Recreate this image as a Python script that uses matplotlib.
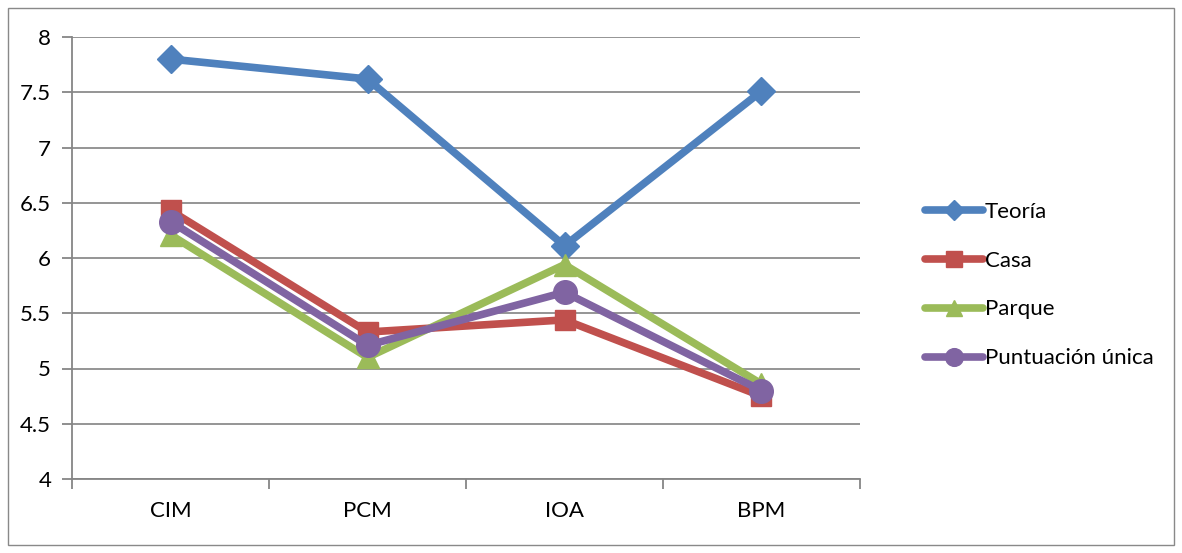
import numpy as np
import matplotlib.pyplot as plt
from matplotlib.patches import Rectangle

plt.rcParams['font.family'] = ['Lato', 'DejaVu Sans']

categorias = ['CIM', 'PCM', 'IOA', 'BPM']
teoria = [7.80, 7.62, 6.11, 7.51]
casa = [6.43, 5.33, 5.44, 4.75]
parque = [6.21, 5.10, 5.94, 4.86]
puntuacion = [6.33, 5.21, 5.69, 4.80]

series = [
    ('Teoría', teoria, '#4F81BD', 'D', 14),
    ('Casa', casa, '#C0504D', 's', 15),
    ('Parque', parque, '#9BBB59', '^', 16),
    ('Puntuación única', puntuacion, '#8064A2', 'o', 17),
]

fig = plt.figure(figsize=(11.82, 5.53), dpi=100)
ax = fig.add_axes([72 / 1182, 1 - 479 / 553, (860 - 72) / 1182, (479 - 37) / 553])

# borde del grafico
fig.patches.append(Rectangle((8 / 1182, 8 / 553), 1166 / 1182, 537 / 553,
                             transform=fig.transFigure, fill=False,
                             edgecolor='#898989', linewidth=1))

x = np.arange(len(categorias))
for nombre, valores, color, marcador, tam in series:
    ax.plot(x, valores, color=color, linewidth=5.5, marker=marcador,
            markersize=tam, label=nombre, solid_capstyle='round')

ax.set_xlim(-0.5, len(categorias) - 0.5)
ax.set_ylim(4, 8)
ax.set_yticks(np.arange(4, 8.01, 0.5))
ax.set_yticklabels(['4', '4.5', '5', '5.5', '6', '6.5', '7', '7.5', '8'])
ax.set_xticks(x)
ax.set_xticklabels(categorias)
ax.set_xticks(np.arange(-0.5, len(categorias), 1), minor=True)
ax.tick_params(axis='x', which='major', length=0, pad=16, labelsize=16)
ax.tick_params(axis='x', which='minor', length=7, color='#868686', width=1.3)
ax.tick_params(axis='y', length=7, color='#868686', width=1.3, labelsize=16, pad=8)

ax.grid(axis='y', color='#8c8c8c', linewidth=1.3)
ax.set_axisbelow(True)
for lado in ['top', 'right']:
    ax.spines[lado].set_visible(False)
for lado in ['left', 'bottom']:
    ax.spines[lado].set_color('#868686')
    ax.spines[lado].set_linewidth(1.3)

fig.legend(loc='center left', bbox_to_anchor=(905 / 1182, 1 - 285 / 553),
           frameon=False, fontsize=16, handlelength=2.6, handletextpad=0.1,
           labelspacing=1.3, markerscale=0.75)

fig.savefig('out.png', dpi=100)
